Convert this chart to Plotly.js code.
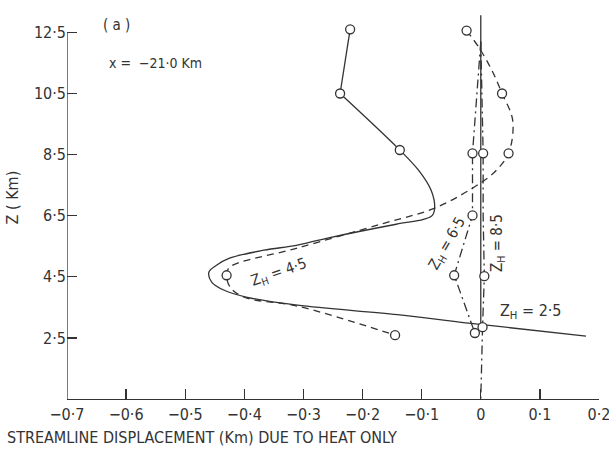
<!DOCTYPE html>
<html>
<head>
<meta charset="utf-8">
<script src="https://cdn.plot.ly/plotly-3.0.1.min.js"></script>
<style>html,body{margin:0;padding:0;background:#fff;}#chart{width:609px;height:451px;}</style>
</head>
<body>
<div id="chart"></div>
<script>
// ---- data ----
// Z_H = 2.5 (solid curve): straight top part, then smooth part
const zh25TopX = [-0.221, -0.238];
const zh25TopZ = [12.6, 10.5];
const zh25X = [-0.238, -0.137, -0.105, -0.084, -0.078, -0.082, -0.097, -0.143, -0.261, -0.312, -0.367, -0.425, -0.447, -0.460, -0.455, -0.434, -0.395, -0.310, -0.141, -0.005, 0.178];
const zh25Z = [10.5, 8.65, 7.98, 7.33, 6.77, 6.51, 6.38, 6.22, 5.76, 5.53, 5.37, 5.11, 4.88, 4.65, 4.32, 4.06, 3.83, 3.57, 3.26, 2.95, 2.56];
const zh25MarkX = [-0.221, -0.238, -0.137];
const zh25MarkZ = [12.6, 10.5, 8.65];
// Z_H = 4.5 (dashed curve)
const zh45X = [-0.024, -0.002, 0.019, 0.036, 0.054, 0.047, 0.026, 0.001, -0.075, -0.164, -0.312, -0.425, -0.430, -0.424, -0.400, -0.310, -0.145];
const zh45Z = [12.56, 11.97, 11.25, 10.5, 9.62, 8.54, 7.98, 7.59, 6.77, 6.25, 5.43, 4.81, 4.55, 4.16, 3.83, 3.54, 2.59];
const zh45MarkX = [-0.024, 0.036, 0.047, -0.430, -0.145];
const zh45MarkZ = [12.56, 10.5, 8.54, 4.55, 2.59];
// Z_H = 6.5 (dash-dot curve)
const zh65X = [0.0, -0.014, -0.014, -0.045, -0.010];
const zh65Z = [12.2, 8.54, 6.51, 4.55, 2.66];
const zh65MarkX = [-0.014, -0.014, -0.045, -0.010];
const zh65MarkZ = [8.54, 6.51, 4.55, 2.66];
// Z_H = 8.5 (dash-dot curve)
const zh85X = [0.0, 0.004, 0.004, 0.006, 0.003, 0.0];
const zh85Z = [12.2, 8.54, 6.5, 4.52, 2.85, 0.5];
const zh85MarkX = [0.004, 0.006, 0.003];
const zh85MarkZ = [8.54, 4.52, 2.85];
// zero reference line
const zeroX = [0, 0];
const zeroZ = [2.95, 13.06];
// ticks
const xTickVals = [-0.7, -0.6, -0.5, -0.4, -0.3, -0.2, -0.1, 0, 0.1, 0.2];
const xTickText = ['−0·7', '−0·6', '−0·5', '−0·4', '−0·3', '−0·2', '−0·1', '0', '0·1', '0·2'];
const yTickVals = [2.5, 4.5, 6.5, 8.5, 10.5, 12.5];
const yTickText = ['2·5', '4·5', '6·5', '8·5', '10·5', '12·5'];

const ink = '#333';
const FONT = 'DejaVu Sans Condensed, DejaVu Sans, sans-serif';
const dashed = '7px,5px';
const dashdot = '9px,4px,2px,4px';

function lineTrace(x, y, dash, shape) {
  return {x: x, y: y, mode: 'lines', type: 'scatter', hoverinfo: 'skip',
    line: {color: ink, width: 1.3, dash: dash, shape: shape || 'linear', smoothing: 1}};
}
function markTrace(x, y) {
  return {x: x, y: y, mode: 'markers', type: 'scatter', hoverinfo: 'skip', cliponaxis: false,
    marker: {symbol: 'circle', size: 9, color: '#fff', line: {color: ink, width: 1.3}}};
}

const data = [
  lineTrace(zeroX, zeroZ, 'solid'),
  lineTrace(zh85X, zh85Z, dashdot),
  lineTrace(zh65X, zh65Z, dashdot),
  lineTrace(zh45X, zh45Z, dashed, 'spline'),
  lineTrace(zh25TopX, zh25TopZ, 'solid'),
  lineTrace(zh25X, zh25Z, 'solid', 'spline'),
  markTrace(zh85MarkX, zh85MarkZ),
  markTrace(zh65MarkX, zh65MarkZ),
  markTrace(zh45MarkX, zh45MarkZ),
  markTrace(zh25MarkX, zh25MarkZ)
];

const layout = {
  width: 609, height: 451,
  margin: {l: 67, r: 10, t: 11, b: 52},
  paper_bgcolor: '#fff', plot_bgcolor: '#fff',
  showlegend: false,
  font: {family: FONT, color: ink, size: 16},
  xaxis: {range: [-0.7, 0.2], tickvals: xTickVals, ticktext: xTickText,
    ticks: 'inside', ticklen: 10, tickwidth: 1.3, tickcolor: ink, ticklabeloverflow: 'allow',
    showline: true, linecolor: ink, linewidth: 1.3, showgrid: false, zeroline: false,
    tickfont: {family: FONT, size: 16, color: ink}, fixedrange: true},
  yaxis: {range: [0.5, 13.2], tickvals: yTickVals, ticktext: yTickText,
    ticks: 'inside', ticklen: 10, tickwidth: 1.3, tickcolor: ink,
    showline: false, showgrid: false, zeroline: false,
    tickfont: {family: FONT, size: 16, color: ink}, fixedrange: true},
  shapes: [
    {type: 'line', xref: 'x', yref: 'y', x0: -0.7, x1: -0.7, y0: 0.5, y1: 12.5,
     line: {color: ink, width: 1.3}}
  ],
  annotations: [
    {xref: 'paper', yref: 'paper', x: -0.1165, y: -0.10, xanchor: 'left', yanchor: 'middle',
     text: 'STREAMLINE DISPLACEMENT (Km) DUE TO HEAT ONLY', showarrow: false,
     font: {family: FONT, size: 16, color: ink}},
    {xref: 'paper', yref: 'paper', x: -0.103, y: 0.52, xanchor: 'center', yanchor: 'middle',
     text: 'Z ( Km)', textangle: -90, showarrow: false,
     font: {family: FONT, size: 16, color: ink}},
    {xref: 'x', yref: 'y', x: -0.616, y: 12.73, xanchor: 'center', yanchor: 'middle',
     text: '( a )', showarrow: false, font: {family: FONT, size: 15, color: ink}},
    {xref: 'x', yref: 'y', x: -0.633, y: 11.49, xanchor: 'left', yanchor: 'middle',
     text: 'x =  −21·0 Km', showarrow: false, font: {family: FONT, size: 14, color: ink}},
    {xref: 'x', yref: 'y', x: 0.029, y: 3.35, xanchor: 'left', yanchor: 'middle',
     text: 'Z<sub>H</sub> = 2·5', showarrow: false, font: {family: FONT, size: 16, color: ink}},
    {xref: 'x', yref: 'y', x: -0.342, y: 4.65, xanchor: 'center', yanchor: 'middle',
     text: 'Z<sub>H</sub> = 4·5', textangle: -19, showarrow: false, font: {family: FONT, size: 15, color: ink}},
    {xref: 'x', yref: 'y', x: -0.057, y: 5.6, xanchor: 'center', yanchor: 'middle',
     text: 'Z<sub>H</sub> = 6·5', textangle: -60, showarrow: false, font: {family: FONT, size: 15, color: ink}},
    {xref: 'x', yref: 'y', x: 0.027, y: 5.6, xanchor: 'center', yanchor: 'middle',
     text: 'Z<sub>H</sub> = 8·5', textangle: -90, showarrow: false, font: {family: FONT, size: 15, color: ink}}
  ]
};

Plotly.newPlot('chart', data, layout, {staticPlot: true, displayModeBar: false});
</script>
</body>
</html>
